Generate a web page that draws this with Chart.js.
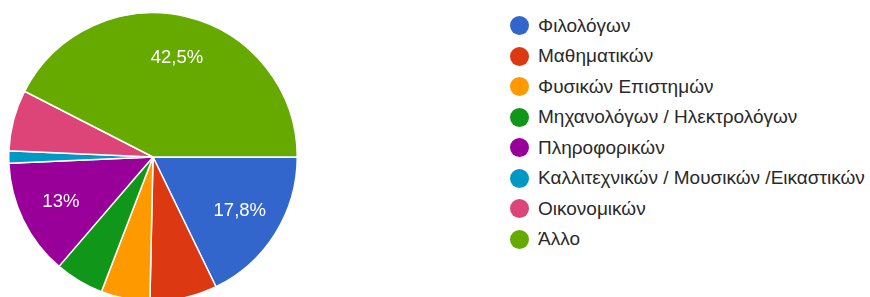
<!DOCTYPE html>
<html>
<head>
<meta charset="utf-8">
<script src="https://cdn.jsdelivr.net/npm/chart.js@4.4.1/dist/chart.umd.min.js"></script>
<style>
  html, body { margin: 0; padding: 0; background: #fff; overflow: hidden; }
  body { width: 870px; height: 297px; position: relative; }
  #pieWrap { position: absolute; left: 8px; top: 12px; width: 290px; height: 290px; }
  #legend { position: absolute; left: 510px; top: 10.5px; font-family: "Liberation Sans", Arial, sans-serif; font-size: 19px; color: #2a2a2a; }
  #legend div { height: 30.5px; display: flex; align-items: center; white-space: nowrap; }
  #legend span.dot { display: inline-block; width: 19px; height: 19px; border-radius: 50%; margin-right: 9px; }
</style>
</head>
<body>
<div id="pieWrap"><canvas id="grafico" width="290" height="290"></canvas></div>
<div id="legend"></div>
<script>
// categorías y respuestas (146 en total)
const categorias = [
  "Φιλολόγων",
  "Μαθηματικών",
  "Φυσικών Επιστημών",
  "Μηχανολόγων / Ηλεκτρολόγων",
  "Πληροφορικών",
  "Καλλιτεχνικών / Μουσικών /Εικαστικών",
  "Οικονομικών",
  "Άλλο"
];
const respuestas = [26, 11, 8, 8, 19, 2, 10, 62];
const colores = ["#3366cc", "#dc3912", "#ff9900", "#109618", "#990099", "#0099c6", "#dd4477", "#66aa00"];

// leyenda
const leyenda = document.getElementById("legend");
categorias.forEach((c, i) => {
    const fila = document.createElement("div");
    fila.innerHTML = `<span class="dot" style="background:${colores[i]}"></span>${c}`;
    leyenda.appendChild(fila);
});

// porcentajes dentro de las porciones grandes
const etiquetas = {
    id: "etiquetas",
    afterDatasetsDraw(chart) {
        const ctx = chart.ctx;
        const datos = chart.data.datasets[0].data;
        const total = datos.reduce((a, b) => a + b, 0);
        ctx.save();
        ctx.font = "18.5px 'Liberation Sans', Arial, sans-serif";
        ctx.fillStyle = "#fff";
        ctx.textAlign = "center";
        ctx.textBaseline = "middle";
        chart.getDatasetMeta(0).data.forEach((arco, i) => {
            const pct = datos[i] / total * 100;
            if (pct < 10) return;
            const p = arco.getProps(["x", "y", "startAngle", "endAngle", "outerRadius"], true);
            const medio = (p.startAngle + p.endAngle) / 2;
            const r = p.outerRadius * 0.71;
            const texto = (Math.round(pct * 10) / 10).toString().replace(".", ",") + "%";
            ctx.fillText(texto, p.x + Math.cos(medio) * r, p.y + Math.sin(medio) * r);
        });
        ctx.restore();
    }
};

new Chart(document.getElementById("grafico").getContext("2d"), {
    type: "pie",
    data: {
        labels: categorias,
        datasets: [{
            data: respuestas,
            backgroundColor: colores,
            borderColor: "#fff",
            borderWidth: 1.5
        }]
    },
    options: {
        responsive: false,
        animation: false,
        rotation: 90,
        layout: { padding: 0 },
        plugins: {
            legend: { display: false },
            tooltip: { enabled: false }
        }
    },
    plugins: [etiquetas]
});
</script>
</body>
</html>
